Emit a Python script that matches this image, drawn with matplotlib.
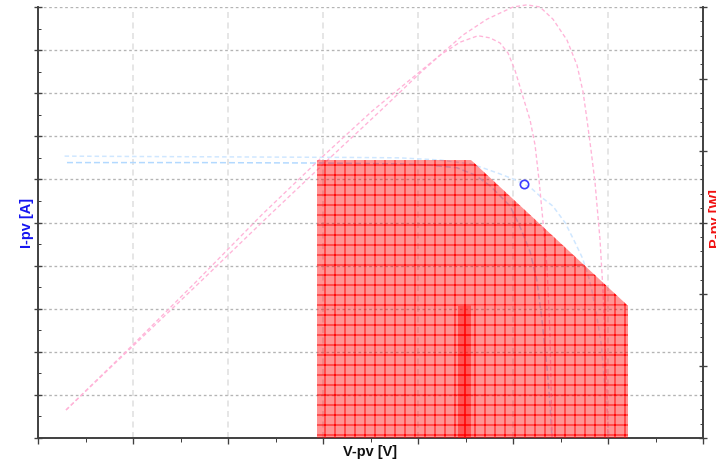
import matplotlib.pyplot as plt
from matplotlib.patches import Polygon
from matplotlib.ticker import MultipleLocator

# I-V curves (V in volts, I in amps)
v_iv1 = [2.8, 11.8, 22.3, 32.8, 38.1, 42.3, 45.5, 46.8, 48.6, 50.0, 51.8, 52.8,
         54.2, 55.5, 56.5, 57.3, 57.9, 58.3, 58.8, 59.3, 59.6, 59.9, 60.1]
i_iv1 = [6.54, 6.53, 6.52, 6.51, 6.50, 6.45, 6.36, 6.27, 6.13, 6.01, 5.82, 5.62,
         5.38, 4.99, 4.55, 4.18, 3.78, 3.43, 2.85, 2.16, 1.35, 0.65, 0.0]
v_iv2 = [3.05, 17.05, 29.7, 38.1, 41.3, 44.1, 46.0, 47.6, 49.7, 50.7, 51.8, 52.5,
         53.05, 53.6, 53.9, 54.1]
i_iv2 = [6.39, 6.39, 6.38, 6.36, 6.33, 6.27, 6.10, 5.85, 5.38, 4.92, 4.32, 3.67,
         2.74, 1.58, 0.77, 0.0]

# P-V curves (P in W)
v_pv1 = [2.95, 9.68, 17.05, 24.42, 30.74, 36.0, 40.21, 42.84, 44.74, 47.26, 50.0,
         51.47, 52.84, 54.21, 55.68, 56.74, 57.37, 57.79, 58.21, 58.63, 59.16,
         59.47, 59.68, 59.89, 60.0]
p_pv1 = [0.39, 1.24, 2.17, 3.11, 3.90, 4.55, 5.08, 5.39, 5.61, 5.83, 6.0, 6.03,
         6.0, 5.83, 5.54, 5.19, 4.82, 4.43, 4.01, 3.56, 2.76, 2.06, 1.36, 0.67, 0.0]
v_pv2 = [2.95, 9.47, 16.53, 23.58, 29.89, 35.16, 39.37, 42.32, 44.42, 46.32, 47.58,
         48.63, 49.47, 50.21, 51.05, 51.79, 52.32, 52.74, 53.16, 53.58, 53.89,
         54.0, 54.11]
p_pv2 = [0.39, 1.23, 2.16, 3.11, 3.91, 4.55, 5.01, 5.33, 5.51, 5.60, 5.57, 5.50,
         5.36, 5.12, 4.75, 4.43, 4.08, 3.59, 3.01, 2.38, 1.46, 0.77, 0.0]

# operating point
op_v, op_i = 51.16, 5.89

# shaded operating region (V, P)
region_main = [(29.37, 0.0), (29.37, 3.87), (45.58, 3.87), (45.58, 0.0)]
region_slope = [(45.58, 3.87), (62.11, 1.84), (45.58, 1.84)]
region_low = [(44.21, 0.0), (44.21, 1.84), (62.11, 1.84), (62.11, 0.0)]

plt.rcParams['font.family'] = ['Liberation Sans', 'DejaVu Sans']
plt.rcParams['hatch.linewidth'] = 0.6

fig = plt.figure(figsize=(716 / 120, 464 / 120), dpi=120)
ax = fig.add_axes([38 / 716, 26 / 464, 665 / 716, 431 / 464])
ax2 = ax.twinx()

ax.set_xlim(0, 70)
ax.set_ylim(0, 10)
ax2.set_ylim(0, 6)

ax.xaxis.set_major_locator(MultipleLocator(10))
ax.xaxis.set_minor_locator(MultipleLocator(5))
ax.yaxis.set_major_locator(MultipleLocator(1))
ax.yaxis.set_minor_locator(MultipleLocator(0.5))
ax2.yaxis.set_major_locator(MultipleLocator(1))
ax2.yaxis.set_minor_locator(MultipleLocator(0.2))

ax.xaxis.grid(True, color='#dedede', linestyle=(0, (4, 3)), linewidth=0.9)
ax.yaxis.grid(True, color='#b4b4b4', linestyle=(0, (2, 2)), linewidth=0.8)

for a in (ax, ax2):
    a.spines['top'].set_visible(False)
    for s in ('left', 'bottom', 'right'):
        a.spines[s].set_color('#404040')
        a.spines[s].set_linewidth(1.0)

ax.tick_params(axis='x', which='major', direction='out', length=3.5, color='#404040', labelbottom=False)
ax.tick_params(axis='x', which='minor', direction='out', length=2.5, color='#404040')
ax.tick_params(axis='y', which='major', direction='inout', length=4.5, color='#404040', labelleft=False)
ax.tick_params(axis='y', which='minor', direction='in', length=2, color='#404040')
ax2.tick_params(axis='y', which='major', direction='inout', length=4.5, color='#404040', labelright=False)
ax2.tick_params(axis='y', which='minor', direction='in', length=2, color='#404040')

# I-V curves
ax.plot(v_iv1, i_iv1, color='#cfe7ff', lw=0.9, ls=(0, (3, 2)))
ax.plot(v_iv2, i_iv2, color='#b2d9ff', lw=0.9, ls=(0, (4, 2)))
ax.plot(op_v, op_i, marker='o', mfc='none', mec='#3c3cff', ms=5, mew=1.0)

# P-V curves
ax2.plot(v_pv1, p_pv1, color='#ffb4d8', lw=0.8, ls=(0, (3, 2)), clip_on=False, zorder=1)
ax2.plot(v_pv2, p_pv2, color='#ffb4d8', lw=0.8, ls=(0, (3, 2)), clip_on=False, zorder=1)

for verts in (region_main, region_slope, region_low):
    ax2.add_patch(Polygon(verts, closed=True, facecolor=(1, 0, 0, 0.42),
                          edgecolor=(1, 0, 0, 0.95), linewidth=0, hatch='++', zorder=3))

ax.set_xlabel('V-pv [V]', fontsize=8.7, fontweight='bold', color='#111111', va='center')
ax.xaxis.set_label_coords(0.5, -14 / 431)
ax.set_ylabel('I-pv [A]', fontsize=8.7, fontweight='bold', color='#1515f0', va='center')
ax.yaxis.set_label_coords(-11 / 665, 0.5)
ax2.set_ylabel('P-pv [W]', fontsize=8.7, fontweight='bold', color='#f01010', va='center', rotation=90)
ax2.yaxis.set_label_coords(1 + 13 / 665, 0.51)

fig.savefig('out.png', dpi=120)
